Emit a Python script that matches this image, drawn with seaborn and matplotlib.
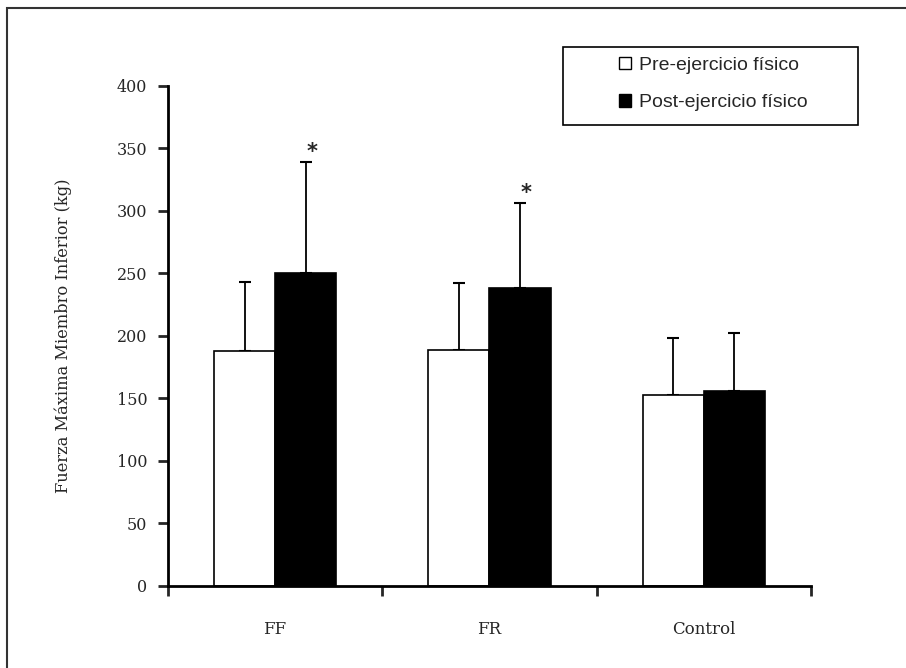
import pandas as pd
import matplotlib.pyplot as plt
import seaborn as sns
from matplotlib.patches import Rectangle

groups = ['FF', 'FR', 'Control']
conditions = ['Pre-ejercicio físico', 'Post-ejercicio físico']
pre_mean = [188, 189, 153]
post_mean = [250, 238, 156]
pre_sd = [55, 53, 45]
post_sd = [89, 68, 46]
significant = [True, True, False]

df = pd.DataFrame({
    'grupo': groups * 2,
    'condicion': [conditions[0]] * 3 + [conditions[1]] * 3,
    'fuerza': pre_mean + post_mean,
    'sd': pre_sd + post_sd,
})

sns.set_style('white')
plt.rcParams['font.family'] = ['DejaVu Serif']

fig = plt.figure(figsize=(9.06, 6.68), dpi=100)
ax = fig.add_axes([0.1854, 0.1228, 0.7097, 0.7485])

sns.barplot(data=df, x='grupo', y='fuerza', hue='condicion', order=groups,
            hue_order=conditions, palette=['white', 'black'], edgecolor='black',
            linewidth=1.2, width=0.57, errorbar=None, ax=ax)

# upward-only error bars on each bar
for i, cond in enumerate(conditions):
    bars = ax.containers[i]
    sub = df[df['condicion'] == cond].set_index('grupo').loc[groups]
    xs = [b.get_x() + b.get_width() / 2 for b in bars]
    ax.errorbar(xs, sub['fuerza'], yerr=[[0] * 3, sub['sd']], fmt='none',
                ecolor='black', elinewidth=1.3, capsize=4.5, capthick=1.5, zorder=0)
    if i == 1:
        for x, m, s, sig in zip(xs, sub['fuerza'], sub['sd'], significant):
            if sig:
                ax.annotate('*', (x + 0.03, m + s), textcoords='offset points',
                            xytext=(0, 0), ha='center', va='bottom',
                            fontsize=15, fontweight='bold', family='DejaVu Sans')

ax.set_ylim(0, 400)
ax.set_xlim(-0.5, 2.5)
ax.set_yticks(range(0, 401, 50))
ax.set_xlabel('')
ax.set_ylabel('Fuerza Máxima Miembro Inferior (kg)', fontsize=11.7, labelpad=32)

for side in ['top', 'right']:
    ax.spines[side].set_visible(False)
for side in ['left', 'bottom']:
    ax.spines[side].set_linewidth(2)
    ax.spines[side].set_color('black')

ax.tick_params(axis='y', direction='out', length=7, width=2, labelsize=11.5, pad=8, left=True)
ax.tick_params(axis='x', which='major', length=0, labelsize=12, pad=25)
ax.set_xticks([-0.5, 0.5, 1.5, 2.5], minor=True)
ax.tick_params(axis='x', which='minor', direction='out', length=7, width=2, bottom=True)

leg = ax.legend(loc='upper left', bbox_to_anchor=(619 / 906, 1 - 57 / 668), bbox_transform=fig.transFigure,
                prop={'family': 'Liberation Sans', 'size': 14}, frameon=False,
                handlelength=0.6, handleheight=0.6, handletextpad=0.45,
                labelspacing=1.05, borderpad=0, borderaxespad=0)
for h in leg.legend_handles:
    h.set_edgecolor('black')
    h.set_linewidth(1)

# legend box
fig.add_artist(Rectangle((563 / 906, 1 - 125 / 668), 295 / 906, 78 / 668,
                         transform=fig.transFigure, fill=False,
                         edgecolor='black', linewidth=1.2))

# outer frame of the original figure
fig.add_artist(Rectangle((0.008, -0.1), 1.2, 1.088, transform=fig.transFigure,
                         fill=False, edgecolor='#333333', linewidth=1.5))

fig.savefig('out.png', dpi=100)
